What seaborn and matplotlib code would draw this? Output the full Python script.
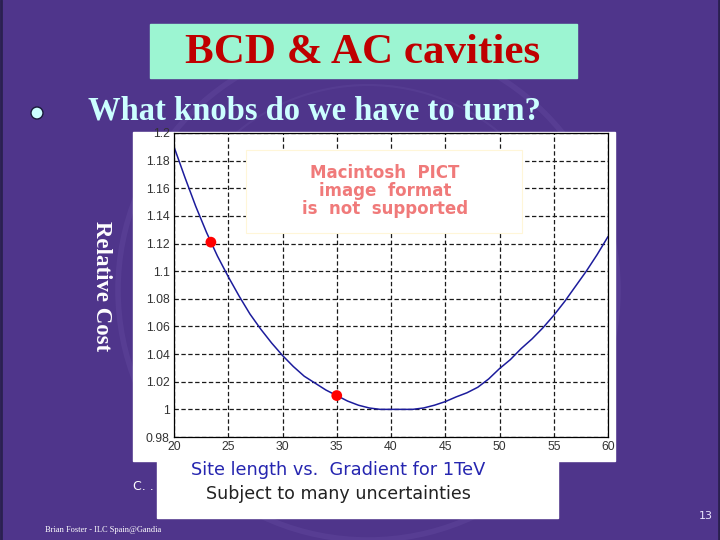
import pandas as pd
import matplotlib.pyplot as plt
from matplotlib.patches import Rectangle, Circle
import seaborn as sns

# Data
site_length = [20, 21, 22, 23, 24, 25, 26, 27, 28, 29, 30, 31, 32, 33, 34, 35, 36, 37, 38, 39, 40,
               41, 42, 43, 44, 45, 46, 47, 48, 49, 50, 51, 52, 53, 54, 55, 56, 57, 58, 59, 60]
relative_cost = [1.190, 1.168, 1.147, 1.128, 1.111, 1.096, 1.082, 1.069, 1.058, 1.048, 1.039,
                 1.031, 1.024, 1.019, 1.014, 1.010, 1.006, 1.003, 1.001, 1.000, 1.000,
                 1.000, 1.000, 1.001, 1.003, 1.0056, 1.009, 1.012, 1.016, 1.022, 1.0295,
                 1.036, 1.044, 1.051, 1.059, 1.068, 1.078, 1.089, 1.100, 1.112, 1.125]
marked_length = [23.4, 35]
marked_cost = [1.121, 1.010]
x_ticks = [20, 25, 30, 35, 40, 45, 50, 55, 60]
y_ticks = [0.98, 1.0, 1.02, 1.04, 1.06, 1.08, 1.1, 1.12, 1.14, 1.16, 1.18, 1.2]
y_tick_labels = ['0.98', '1', '1.02', '1.04', '1.06', '1.08', '1.1', '1.12', '1.14', '1.16', '1.18', '1.2']

curve = pd.DataFrame({'Site length': site_length, 'Relative cost': relative_cost})
marks = pd.DataFrame({'Site length': marked_length, 'Relative cost': marked_cost})

sns.set_style('white')
plt.rcParams['font.family'] = ['DejaVu Sans']

PURPLE = '#4f358b'
fig = plt.figure(figsize=(7.2, 5.4), dpi=100, facecolor=PURPLE)

# slide background, drawn in pixel coordinates
bg = fig.add_axes([0, 0, 1, 1], zorder=0)
bg.set_xlim(0, 720)
bg.set_ylim(540, 0)
bg.axis('off')
bg.add_patch(Circle((368, 290), 250, fill=False, ec='#6a52a6', lw=4, alpha=0.3))
bg.add_patch(Circle((368, 290), 205, fill=False, ec='#6a52a6', lw=1.5, alpha=0.25))
bg.axvline(1, color='#2a2050', lw=2)
bg.axvline(718.5, color='#2a2050', lw=2)

bg.add_patch(Rectangle((150, 24), 427, 54, color='#9cf5d2'))
bg.text(363, 63, 'BCD & AC cavities', ha='center', va='baseline', color='#bf0000',
        fontsize=31, fontweight='bold', family='Liberation Serif')
bg.add_patch(Circle((37, 113), 6, fc='#ccffff', ec='#1a1a3a', lw=1))
bg.text(88, 119, 'What knobs do we have to turn?', ha='left', va='baseline', color='#ccffff',
        fontsize=23.5, fontweight='bold', family='Liberation Serif')
bg.text(101, 286, 'Relative Cost', rotation=-90, ha='center', va='center', color='white',
        fontsize=16.5, fontweight='bold', family='Liberation Serif')
bg.add_patch(Rectangle((133, 132), 482, 329, color='white'))
bg.text(133, 487, 'C. .', ha='left', va='center', color='white', fontsize=9)
bg.text(45, 530, 'Brian Foster - ILC Spain@Gandia', ha='left', va='center', color='white',
        fontsize=6, family='Liberation Serif')
bg.text(713, 516, '13', ha='right', va='center', color='#ece6ff', fontsize=8)

# the chart itself
ax = fig.add_axes([174 / 720, (540 - 437) / 540, 434 / 720, 304 / 540], zorder=1)
ax.set_facecolor('white')
sns.lineplot(data=curve, x='Site length', y='Relative cost', color='#1c1c9c', lw=1.1, ax=ax)
sns.scatterplot(data=marks, x='Site length', y='Relative cost', color='#ff0000', s=60,
                edgecolor='none', zorder=5, ax=ax)
ax.set_xlim(20, 60)
ax.set_ylim(0.98, 1.2)
ax.set_xticks(x_ticks)
ax.set_xticklabels([str(t) for t in x_ticks])
ax.set_yticks(y_ticks)
ax.set_yticklabels(y_tick_labels)
ax.set_xlabel('')
ax.set_ylabel('')
ax.grid(True, color='#1a1a1a', linestyle=(0, (3.5, 2)), linewidth=0.9)
ax.tick_params(direction='in', length=3, labelsize=8.8, labelcolor='#333333', pad=3)
for lab in ax.get_xticklabels() + ax.get_yticklabels():
    lab.set_family('Liberation Sans')
for sp in ax.spines.values():
    sp.set_color('black')
    sp.set_linewidth(0.9)

# overlays on top of the chart
top = fig.add_axes([0, 0, 1, 1], zorder=2)
top.set_xlim(0, 720)
top.set_ylim(540, 0)
top.axis('off')
top.patch.set_alpha(0)
top.add_patch(Rectangle((246, 150), 276, 83, fc='white', ec='#fff6d8', lw=0.8))
for y, line in zip([173, 191, 209], ['Macintosh  PICT', 'image  format', 'is  not  supported']):
    top.text(385, y, line, ha='center', va='center', color='#f07a7a',
             fontsize=12, fontweight='bold')
top.add_patch(Rectangle((157, 460), 401, 58, color='white'))
top.text(338, 470, 'Site length vs.  Gradient for 1TeV', ha='center', va='center',
         color='#2626b0', fontsize=12.8)
top.text(338, 494, 'Subject to many uncertainties', ha='center', va='center',
         color='#222222', fontsize=12.6)

fig.savefig('out.png', dpi=100, facecolor=PURPLE)
